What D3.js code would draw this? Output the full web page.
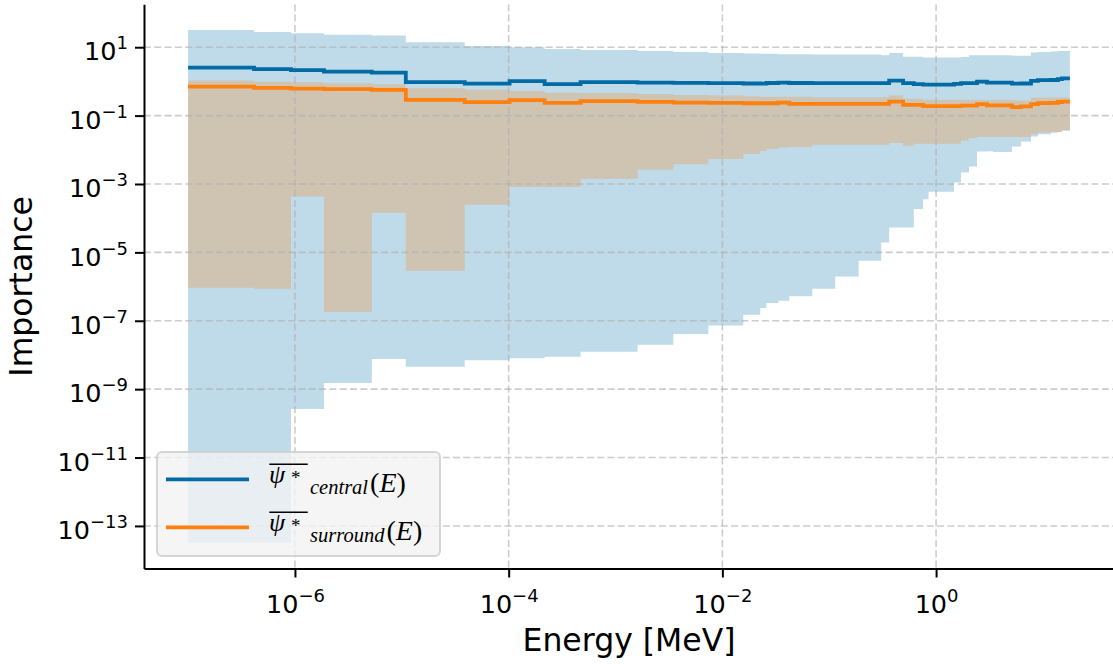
<!DOCTYPE html>
<html>
<head>
<meta charset="utf-8">
<script src="https://cdn.jsdelivr.net/npm/d3@7"></script>
<style>
    body { margin: 0; background: #fff; }
    text { font-family: "DejaVu Sans", sans-serif; }
    text.math { font-family: "Liberation Serif", "DejaVu Serif", serif; }
</style>
</head>
<body>
<svg id="importance-chart" width="1113" height="664"></svg>
<script>
// energy group edges [MeV], one more than the number of groups
const energyEdges = [1.0e-7, 4.14e-7, 9.18e-7, 1.87e-6, 5.24e-6, 1.09e-5, 3.88e-5, 1.02e-4, 2.17e-4, 4.71e-4,
    1.61e-3, 3.48e-3, 7.40e-3, 1.57e-2, 2.26e-2, 2.58e-2, 3.34e-2, 4.23e-2, 6.94e-2, 0.1138,
    0.1887, 0.306, 0.364, 0.491, 0.618, 0.756, 0.849, 1.473, 1.712, 2.034,
    2.416, 2.997, 3.41, 5.13, 6.23, 7.73, 8.98, 11.88, 13.81, 15.05, 17.88];

// central cell importance, per group
const centralMean = [2.54, 2.28, 2.13, 1.94, 1.81, 0.95, 0.86, 1.02, 0.83, 0.95,
    0.925, 0.908, 0.89, 0.87, 0.86, 0.9, 0.925, 0.9, 0.89, 0.89,
    0.89, 0.89, 1.06, 0.89, 0.83, 0.81, 0.81, 0.85, 0.89, 0.89,
    0.99, 0.925, 0.925, 0.865, 0.87, 1.04, 1.09, 1.1, 1.16, 1.23];
const centralMin = [3.2e-14, 3.2e-14, 2.64e-10, 1.52e-9, 7.6e-9, 4.55e-9, 6.95e-9, 7.96e-9, 8.9e-9, 1.25e-8,
    2.0e-8, 4.1e-8, 7.3e-8, 1.5e-7, 2.37e-7, 3.3e-7, 3.87e-7, 5.2e-7, 8.7e-7, 1.98e-6,
    5.7e-6, 1.95e-5, 5.36e-5, 5.36e-5, 1.85e-4, 3.6e-4, 5.9e-4, 1.1e-3, 2.17e-3, 3.25e-3,
    8.9e-3, 9.1e-3, 8.6e-3, 1.25e-2, 1.75e-2, 2.44e-2, 2.87e-2, 3.2e-2, 3.3e-2, 3.67e-2];
const centralMax = [32, 28, 25.7, 23, 21.9, 14, 10.9, 10.0, 8.9, 8.35,
    7.8, 7.3, 6.8, 6.5, 6.4, 6.4, 6.25, 6.25, 6.1, 6.1,
    6.1, 5.85, 6.8, 5.3, 5.3, 4.98, 4.98, 5.0, 5.2, 5.85,
    5.85, 5.85, 5.85, 5.6, 5.6, 6.97, 7.3, 7.55, 7.7, 7.8];

// surrounding cells importance, per group
const surroundMean = [0.708, 0.648, 0.618, 0.594, 0.566, 0.289, 0.248, 0.283, 0.236, 0.265,
    0.252, 0.241, 0.236, 0.23, 0.23, 0.23, 0.24, 0.221, 0.221, 0.221,
    0.221, 0.221, 0.258, 0.206, 0.206, 0.189, 0.189, 0.19, 0.197, 0.197,
    0.216, 0.2, 0.2, 0.177, 0.185, 0.216, 0.231, 0.236, 0.25, 0.255];
const surroundMin = [9.3e-7, 8.7e-7, 4.3e-4, 1.8e-7, 1.44e-4, 2.9e-6, 2.47e-4, 8.1e-4, 8.1e-4, 1.42e-3,
    2.6e-3, 3.8e-3, 5.35e-3, 7.5e-3, 9.3e-3, 1.05e-2, 1.17e-2, 1.2e-2, 1.4e-2, 1.4e-2,
    1.4e-2, 1.4e-2, 1.57e-2, 1.31e-2, 1.5e-2, 1.5e-2, 1.5e-2, 1.5e-2, 1.87e-2, 2.17e-2,
    2.35e-2, 2.35e-2, 2.35e-2, 2.35e-2, 2.35e-2, 2.87e-2, 3.2e-2, 3.2e-2, 3.3e-2, 3.67e-2];
const surroundMax = [1.06, 0.97, 0.95, 0.89, 0.83, 0.635, 0.566, 0.52, 0.47, 0.46,
    0.43, 0.40, 0.385, 0.37, 0.354, 0.354, 0.354, 0.354, 0.342, 0.342,
    0.342, 0.342, 0.385, 0.309, 0.309, 0.289, 0.289, 0.289, 0.289, 0.289,
    0.289, 0.289, 0.289, 0.276, 0.276, 0.337, 0.337, 0.337, 0.337, 0.337];

const xTicks = [1e-6, 1e-4, 1e-2, 1e0];
const yTicks = [1e1, 1e-1, 1e-3, 1e-5, 1e-7, 1e-9, 1e-11, 1e-13];
const seriesNames = ["central", "surround"];

const blue = "#006BA4", orange = "#FF800E";

// matplotlib-like 5% margins, in log space
function logPad(lo, hi) {
    var a = Math.log10(lo), b = Math.log10(hi), m = (b - a) * 0.05;
    return [Math.pow(10, a - m), Math.pow(10, b + m)];
}

var plot = { left: 144, right: 1114, top: 4.3, bottom: 568.5 };

var x = d3.scaleLog()
    .domain(logPad(d3.min(energyEdges), d3.max(energyEdges)))
    .range([plot.left, plot.right]);

var y = d3.scaleLog()
    .domain(logPad(d3.min(centralMin), d3.max(centralMax)))
    .range([plot.bottom, plot.top]);

var svg = d3.select("#importance-chart");

svg.append("defs").append("clipPath").attr("id", "plot-clip")
    .append("rect")
    .attr("x", plot.left).attr("y", plot.top)
    .attr("width", plot.right - plot.left).attr("height", plot.bottom - plot.top);

// step helpers: the last group value is carried to the final edge
function stepPoints(vals) {
    var pts = vals.map((v, i) => [energyEdges[i], v]);
    pts.push([energyEdges[vals.length], vals[vals.length - 1]]);
    return pts;
}
function bandPoints(lo, hi) {
    var pts = lo.map((v, i) => ({ e: energyEdges[i], lo: v, hi: hi[i] }));
    pts.push({ e: energyEdges[lo.length], lo: lo[lo.length - 1], hi: hi[hi.length - 1] });
    return pts;
}

var area = d3.area()
    .curve(d3.curveStepAfter)
    .x(d => x(d.e))
    .y0(d => y(d.lo))
    .y1(d => y(d.hi));

var line = d3.line()
    .curve(d3.curveStepAfter)
    .x(d => x(d[0]))
    .y(d => y(d[1]));

var body = svg.append("g").attr("clip-path", "url(#plot-clip)");

body.append("path")
    .datum(bandPoints(centralMin, centralMax))
    .attr("d", area)
    .attr("fill", blue)
    .attr("fill-opacity", 0.25);

body.append("path")
    .datum(bandPoints(surroundMin, surroundMax))
    .attr("d", area)
    .attr("fill", orange)
    .attr("fill-opacity", 0.25);

// dashed grid, above the bands
var grid = body.append("g")
    .attr("stroke", "#b0b0b0")
    .attr("stroke-opacity", 0.65)
    .attr("stroke-width", 1.6)
    .attr("stroke-dasharray", "7,3.3");

grid.selectAll(".gx").data(xTicks).join("line")
    .attr("x1", d => x(d)).attr("x2", d => x(d))
    .attr("y1", plot.top).attr("y2", plot.bottom);

grid.selectAll(".gy").data(yTicks).join("line")
    .attr("y1", d => y(d)).attr("y2", d => y(d))
    .attr("x1", plot.left).attr("x2", plot.right);

body.append("path")
    .datum(stepPoints(centralMean))
    .attr("d", line)
    .attr("fill", "none")
    .attr("stroke", blue)
    .attr("stroke-width", 3.8);

body.append("path")
    .datum(stepPoints(surroundMean))
    .attr("d", line)
    .attr("fill", "none")
    .attr("stroke", orange)
    .attr("stroke-width", 3.8);

// axes
function expLabel(d) {
    var e = Math.round(Math.log10(d));
    return (e < 0 ? "\u2212" : "") + Math.abs(e);
}
function powerTicks(g, raise) {
    g.selectAll(".tick text").each(function (d) {
        var t = d3.select(this);
        t.text(null);
        t.append("tspan").text("10");
        t.append("tspan").attr("dy", raise).attr("font-size", 18).text(expLabel(d));
    });
}

var xAxis = svg.append("g")
    .attr("transform", `translate(0,${plot.bottom})`)
    .call(d3.axisBottom(x).tickValues(xTicks).tickSize(9).tickPadding(9).tickSizeOuter(0))
    .call(g => g.attr("font-size", 25.5).attr("font-family", null))
    .call(g => g.select(".domain").attr("stroke-width", 2))
    .call(g => g.selectAll(".tick line").attr("stroke-width", 2))
    .call(g => powerTicks(g, -11));
xAxis.selectAll(".tick text").attr("dy", "1.05em");

var yAxis = svg.append("g")
    .attr("transform", `translate(${plot.left},0)`)
    .call(d3.axisLeft(y).tickValues(yTicks).tickSize(9).tickPadding(7).tickSizeOuter(0))
    .call(g => g.attr("font-size", 25.5).attr("font-family", null))
    .call(g => g.select(".domain").attr("stroke-width", 2))
    .call(g => g.selectAll(".tick line").attr("stroke-width", 2))
    .call(g => powerTicks(g, -11));
yAxis.selectAll(".tick text").attr("dy", "0.5em");

svg.append("text")
    .attr("x", (plot.left + plot.right) / 2)
    .attr("y", 651)
    .attr("text-anchor", "middle")
    .attr("font-size", 31.5)
    .text("Energy [MeV]");

svg.append("text")
    .attr("transform", `translate(32,${(plot.top + plot.bottom) / 2}) rotate(-90)`)
    .attr("text-anchor", "middle")
    .attr("font-size", 31.5)
    .text("Importance");

// legend
var legend = svg.append("g");
legend.append("rect")
    .attr("x", 157).attr("y", 452)
    .attr("width", 283).attr("height", 104)
    .attr("rx", 5)
    .attr("fill", "#f2f2f2").attr("fill-opacity", 0.8)
    .attr("stroke", "#cccccc").attr("stroke-opacity", 0.8).attr("stroke-width", 2);

var entry = legend.selectAll(".entry")
    .data(seriesNames)
    .join("g")
    .attr("transform", (d, i) => `translate(0,${i * 48})`);

entry.append("line")
    .attr("x1", 166).attr("x2", 249)
    .attr("y1", 479.3).attr("y2", 479.3)
    .attr("stroke", (d, i) => i === 0 ? blue : orange)
    .attr("stroke-width", 3.8);

entry.append("line")
    .attr("x1", 269.3).attr("x2", 307.7)
    .attr("y1", 464.3).attr("y2", 464.3)
    .attr("stroke", "#000").attr("stroke-width", 1.4);

entry.append("text")
    .attr("class", "math")
    .attr("x", 269).attr("y", 482.5)
    .attr("font-style", "italic").attr("font-size", 26)
    .text("\u03C8");

entry.append("text")
    .attr("class", "math")
    .attr("x", 291).attr("y", 484)
    .attr("font-size", 19)
    .text("*");

var sub = entry.append("text")
    .attr("class", "math")
    .attr("x", 310).attr("y", 494)
    .attr("font-style", "italic").attr("font-size", 20.5)
    .text(d => d);

entry.append("text")
    .attr("class", "math")
    .attr("x", function (d, i) { return 312 + sub.nodes()[i].getComputedTextLength(); })
    .attr("y", 492)
    .attr("font-size", 28)
    .call(t => t.append("tspan").text("("))
    .call(t => t.append("tspan").attr("font-style", "italic").text("E"))
    .call(t => t.append("tspan").text(")"));
</script>
</body>
</html>
